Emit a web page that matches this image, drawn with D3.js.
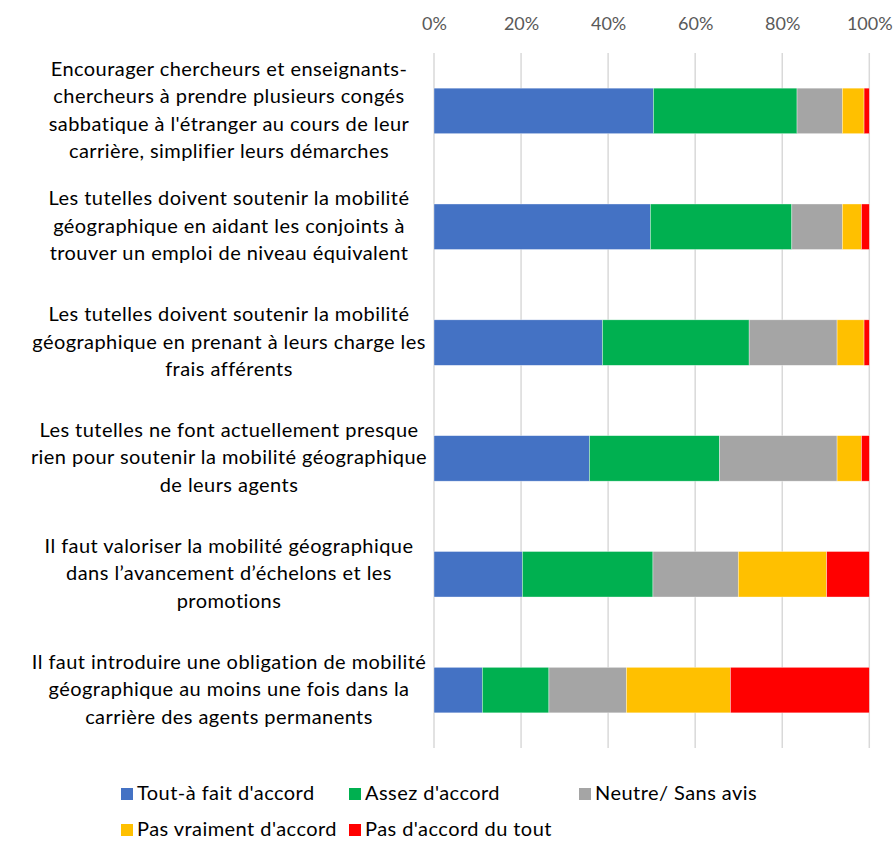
<!DOCTYPE html>
<html><head><meta charset="utf-8">
<script src="https://cdn.jsdelivr.net/npm/d3@7"></script>
<style>body{margin:0;background:#fff;} svg{display:block;}</style>
</head><body>
<script>
const categories = [
  ["Encourager chercheurs et enseignants-","chercheurs à prendre plusieurs congés","sabbatique à l'étranger au cours de leur","carrière, simplifier leurs démarches"],
  ["Les tutelles doivent soutenir la mobilité","géographique en aidant les conjoints à","trouver un emploi de niveau équivalent"],
  ["Les tutelles doivent soutenir la mobilité","géographique en prenant à leurs charge les","frais afférents"],
  ["Les tutelles ne font actuellement presque","rien pour soutenir la mobilité géographique","de leurs agents"],
  ["Il faut valoriser la mobilité géographique","dans l’avancement d’échelons et les","promotions"],
  ["Il faut introduire une obligation de mobilité","géographique au moins une fois dans la","carrière des agents permanents"]
];
const seriesNames = ["Tout-à fait d'accord","Assez d'accord","Neutre/ Sans avis","Pas vraiment d'accord","Pas d'accord du tout"];
const toutAFait = [50.4, 49.7, 38.7, 35.7, 20.3, 11.1];
const assez     = [33.0, 32.5, 33.7, 29.9, 30.0, 15.3];
const neutre    = [10.4, 11.6, 20.2, 27.0, 19.6, 17.8];
const pasVraiment = [5.0, 4.4, 6.2, 5.6, 20.3, 23.9];
const pasDuTout = [1.2, 1.8, 1.2, 1.8, 9.8, 31.9];
const tickValues = [0, 20, 40, 60, 80, 100];
const colors = ["#4472C4","#00B050","#A5A5A5","#FFC000","#FF0000"];

const W = 896, H = 841;
const svg = d3.select("body").append("svg").attr("width", W).attr("height", H);
const font = "Lato, 'Open Sans', sans-serif";

const x = d3.scaleLinear().domain([0,100]).range([434, 869.3]);
const y = d3.scaleBand().domain(d3.range(categories.length)).range([53, 748]).paddingInner(0.607).paddingOuter(0.3035);

// gridlines
svg.append("g").selectAll("line").data(tickValues).join("line")
  .attr("x1", d=>x(d)).attr("x2", d=>x(d)).attr("y1", 53).attr("y2", 748)
  .attr("stroke", "#d9d9d9").attr("stroke-width", 1.5);

// top axis labels
const axis = d3.axisTop(x).tickValues(tickValues).tickFormat(d=>d+"%").tickSize(0).tickPadding(0);
const ag = svg.append("g").attr("transform","translate(0,30)").call(axis);
ag.select(".domain").remove();
ag.selectAll("text").attr("font-family", font).attr("font-size", 18).attr("fill", "#595959");

// stacked data
const rows = categories.map((c,i)=>({i, v:[toutAFait[i],assez[i],neutre[i],pasVraiment[i],pasDuTout[i]]}));
const keys = [0,1,2,3,4];
const stack = d3.stack().keys(keys).value((d,k)=>d.v[k]);
const stacked = stack(rows);

svg.append("g").selectAll("g").data(stacked).join("g")
  .attr("fill", (d,k)=>colors[k])
  .selectAll("rect").data(d=>d).join("rect")
  .attr("x", d=>x(d[0])).attr("width", d=>x(d[1])-x(d[0]))
  .attr("y", d=>y(d.data.i)).attr("height", y.bandwidth())
  .attr("stroke", "#ffffff").attr("stroke-width", 0.6).attr("stroke-opacity", 0.6);

// category labels
const lineH = 27.5;
const lab = svg.append("g");
categories.forEach((lines,i)=>{
  const cy = y(i) + y.bandwidth()/2;
  const t = lab.append("text").attr("font-family", font).attr("font-size", 20)
    .attr("letter-spacing", 0.45)
    .attr("fill", "#000").attr("text-anchor","middle");
  lines.forEach((ln,j)=>{
    t.append("tspan").attr("x", 229)
      .attr("y", cy + (j - (lines.length-1)/2)*lineH + 6).text(ln);
  });
});

// legend
const legendPos = [[121,800],[349,800],[579,800],[121,836],[349,836]];
const lg = svg.append("g");
seriesNames.forEach((n,k)=>{
  const [lx,ly] = legendPos[k];
  lg.append("rect").attr("x", lx).attr("y", ly-12).attr("width", 12).attr("height", 12).attr("fill", colors[k]);
  lg.append("text").attr("x", lx+16).attr("y", ly).attr("font-family", font).attr("font-size", 20)
    .attr("letter-spacing", 0.45).attr("fill","#000").text(n);
});
</script>
</body></html>
